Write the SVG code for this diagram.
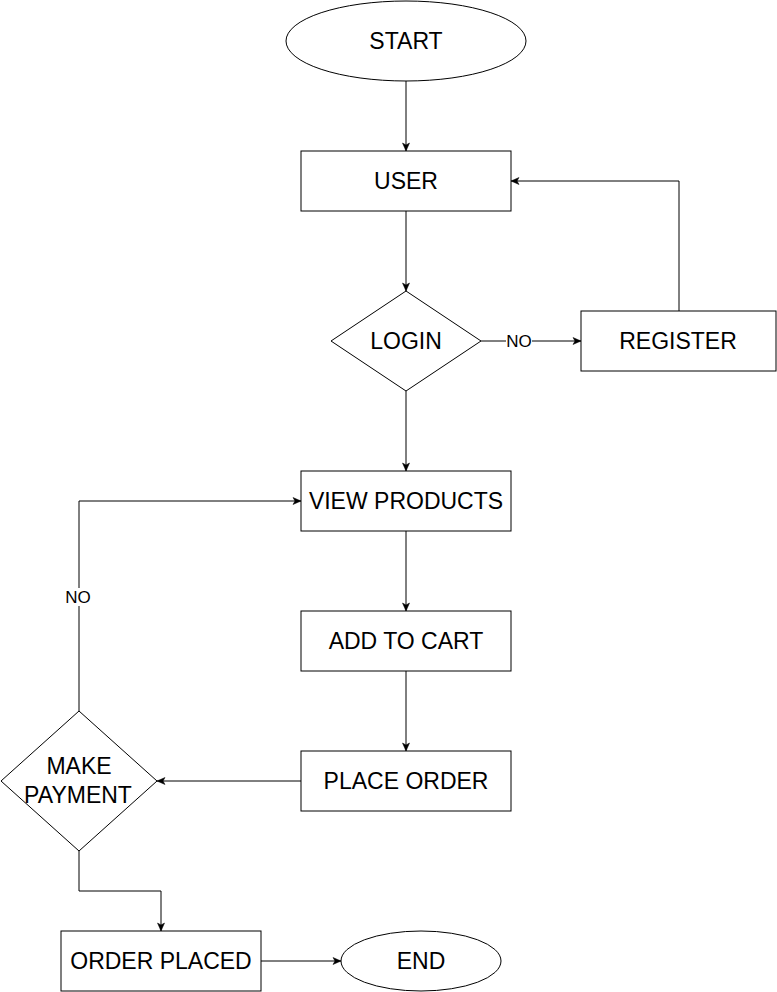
<svg xmlns="http://www.w3.org/2000/svg" width="777" height="992" viewBox="0 0 777 992">
<style>
.n{fill:#fff;stroke:#000;stroke-width:1}
.t{font-family:"Liberation Sans",Arial,sans-serif;font-size:23px;fill:#000;text-anchor:middle}
.l{font-family:"Liberation Sans",Arial,sans-serif;font-size:17px;fill:#000;text-anchor:middle}
.c{fill:none;stroke:#000;stroke-width:1}
</style>
<defs>
<marker id="a" markerUnits="userSpaceOnUse" markerWidth="10" markerHeight="10" viewBox="0 0 10 10" refX="9" refY="5" orient="auto">
<path d="M1,1.5 L9,5 L1,8.5 L3,5 Z" fill="#000" stroke="#000" stroke-width="0.5"/>
</marker>
</defs>
<rect width="777" height="992" fill="#fff"/>
<g id="connectors">
<path class="c" d="M406,81 V151" marker-end="url(#a)"/>
<path class="c" d="M406,211 V291" marker-end="url(#a)"/>
<path class="c" d="M481,341 H581" marker-end="url(#a)"/>
<path class="c" d="M679,311 V181 H511" marker-end="url(#a)"/>
<path class="c" d="M406,391 V471" marker-end="url(#a)"/>
<path class="c" d="M406,531 V611" marker-end="url(#a)"/>
<path class="c" d="M406,671 V751" marker-end="url(#a)"/>
<path class="c" d="M301,781 H157" marker-end="url(#a)"/>
<path class="c" d="M79,711 V501 H301" marker-end="url(#a)"/>
<path class="c" d="M79,851 V891 H161 V931" marker-end="url(#a)"/>
<path class="c" d="M261,961 H341" marker-end="url(#a)"/>
<rect x="506" y="333" width="26" height="16" fill="#fff"/>
<text class="l" x="519" y="347">NO</text>
<rect x="64" y="588" width="30" height="18" fill="#fff"/>
<text class="l" x="78" y="603">NO</text>
</g>
<g id="start"><ellipse class="n" cx="406" cy="41" rx="120" ry="40"/><text class="t" x="406" y="49">START</text></g>
<g id="user"><rect class="n" x="301" y="151" width="210" height="60"/><text class="t" x="406" y="189">USER</text></g>
<g id="login"><polygon class="n" points="406,291 481,341 406,391 331,341"/><text class="t" x="406" y="349">LOGIN</text></g>
<g id="register"><rect class="n" x="581" y="311" width="195" height="60"/><text class="t" x="678" y="349">REGISTER</text></g>
<g id="view-products"><rect class="n" x="301" y="471" width="210" height="60"/><text class="t" x="406" y="509">VIEW PRODUCTS</text></g>
<g id="add-to-cart"><rect class="n" x="301" y="611" width="210" height="60"/><text class="t" x="406" y="649">ADD TO CART</text></g>
<g id="place-order"><rect class="n" x="301" y="751" width="210" height="60"/><text class="t" x="406" y="789">PLACE ORDER</text></g>
<g id="make-payment"><polygon class="n" points="79,711 157,781 79,851 1,781"/><text class="t" x="79" y="774">MAKE</text><text class="t" x="78" y="803">PAYMENT</text></g>
<g id="order-placed"><rect class="n" x="61" y="931" width="200" height="60"/><text class="t" x="161" y="969">ORDER PLACED</text></g>
<g id="end"><ellipse class="n" cx="421" cy="961" rx="80" ry="30"/><text class="t" x="421" y="969">END</text></g>
</svg>
